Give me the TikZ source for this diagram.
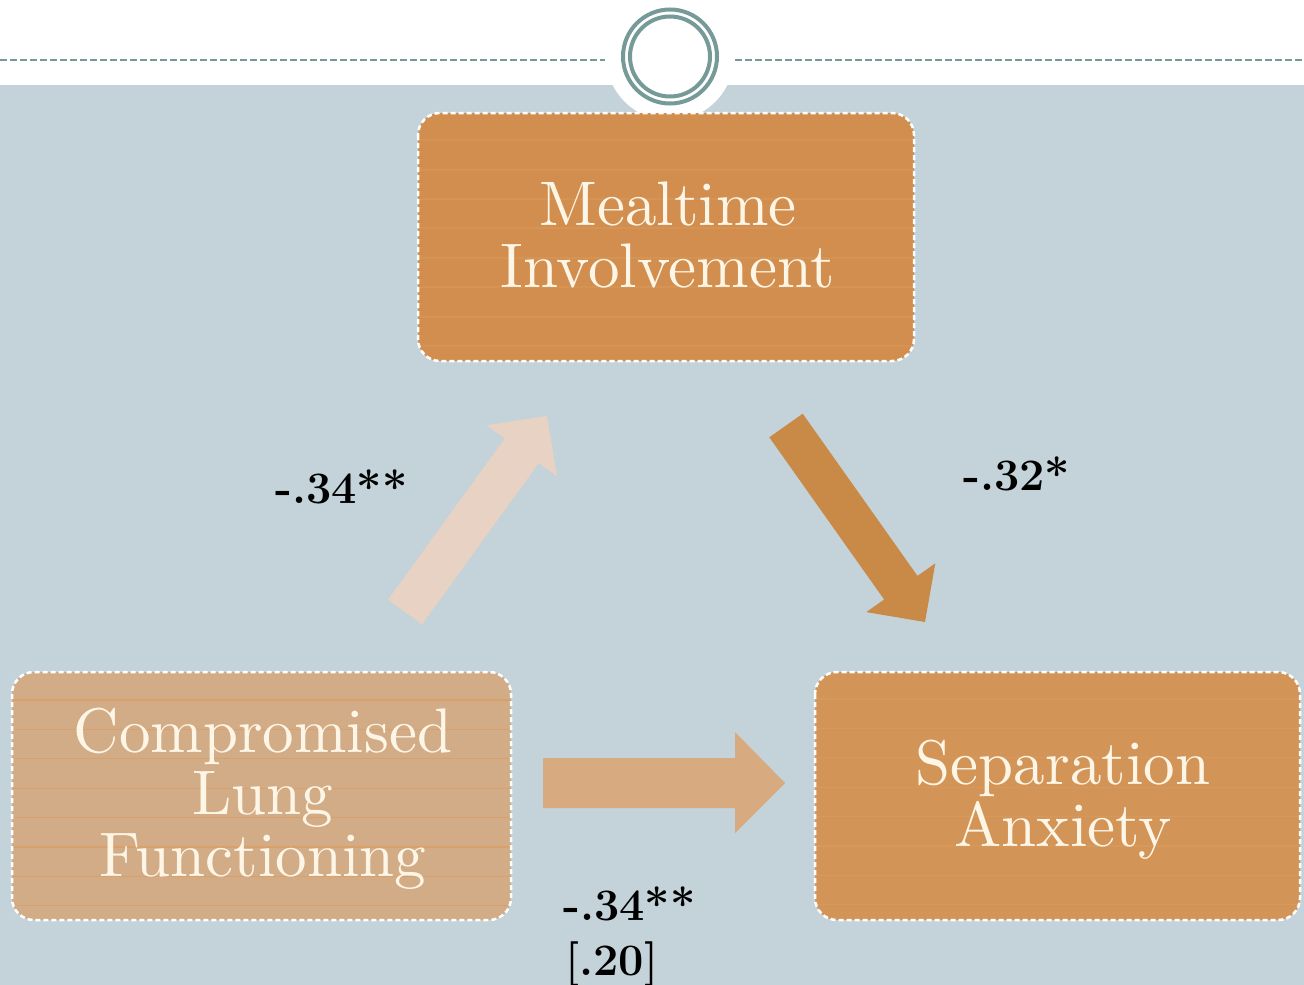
\documentclass[tikz,border=0pt]{standalone}
\usepackage{fontspec}
\newfontfamily\boxfont{lmroman10-regular.otf}
\definecolor{bgblue}{HTML}{C4D3D9}
\definecolor{ringcol}{HTML}{769A98}
\definecolor{mealcol}{HTML}{D18E4E}
\definecolor{sepcol}{HTML}{D39457}
\definecolor{compcol}{HTML}{D2AC86}
\definecolor{linecol}{HTML}{DD9E62}
\definecolor{uparrow}{HTML}{E8D2C3}
\definecolor{downarrow}{HTML}{C98A47}
\definecolor{harrow}{HTML}{D8AA80}
\definecolor{txtcol}{HTML}{FDF6E6}
\tikzset{
  boxshape/.style={draw=white, line width=2.5pt, dash pattern=on 5pt off 3pt, rounded corners=22pt},
  boxtext/.style={align=center, text=txtcol, font=\boxfont\fontsize{63}{62}\selectfont, inner sep=0pt},
  coeflabel/.style={font=\fontsize{45}{45}\selectfont\bfseries, inner sep=0pt, anchor=base west},
  ruled/.style={linecol, line width=1.2pt, opacity=0.8}
}
\begin{document}
\begin{tikzpicture}[x=1pt,y=-1pt]
\useasboundingbox (0,0) rectangle (1304,985);
% background
\fill[white] (0,0) rectangle (1304,85);
\fill[bgblue] (0,85) rectangle (1304,985);
% dashed header line
\draw[ringcol, line width=1.6pt, dash pattern=on 7pt off 3pt] (0,60) -- (605,60);
\draw[ringcol, line width=1.6pt, dash pattern=on 7pt off 3pt] (735,60) -- (1304,60);
% white cut-out and rings
\fill[white] (670,56.5) circle (64);
\draw[ringcol, line width=4pt] (670,56.5) circle (47);
\draw[ringcol, line width=4pt] (670,56.5) circle (40);

% boxes
\fill[mealcol, rounded corners=22pt] (418,113) rectangle (914,361);
\begin{scope}
  \clip[rounded corners=22pt] (418,113) rectangle (914,361);
  \foreach \yy in {140,170,199,228,258,287,317,346}
    \draw[ruled, opacity=0.35] (418,\yy) -- (914,\yy);
\end{scope}
\draw[boxshape] (418,113) rectangle (914,361);

\fill[compcol, rounded corners=22pt] (12,672) rectangle (511,920);
\begin{scope}
  \clip[rounded corners=22pt] (12,672) rectangle (511,920);
  \foreach \yy in {700,729.4,758.8,788.2,817.6,847,876.4,905.8}
    \draw[ruled] (12,\yy) -- (511,\yy);
\end{scope}
\draw[boxshape] (12,672) rectangle (511,920);

\fill[sepcol, rounded corners=22pt] (815,672) rectangle (1300,920);
\begin{scope}
  \clip[rounded corners=22pt] (815,672) rectangle (1300,920);
  \foreach \yy in {699,728.4,757.8,787.2,816.6,846,875.4,904.8}
    \draw[ruled, opacity=0.4] (815,\yy) -- (1300,\yy);
\end{scope}
\draw[boxshape] (815,672) rectangle (1300,920);

% box texts
\node[boxtext] (meal) at (668,235) {Mealtime\\Involvement};
\node[boxtext] (comp) at (263,799) {Compromised\\Lung\\Functioning};
\node[boxtext] (sep) at (1063,800) {Separation\\Anxiety};

% block arrows
\fill[uparrow] (388,599.7) -- (504.8,438.5) -- (486.6,425.3) -- (547,416)
  -- (557,476.3) -- (538.8,463.1) -- (422,624.3) -- cycle;
\fill[downarrow] (769.3,437.3) -- (884.1,599.5) -- (866.3,612.1) -- (925,622)
  -- (935.3,563.3) -- (917.5,575.9) -- (802.7,413.7) -- cycle;
\fill[harrow] (543,758) -- (735,758) -- (735,732) -- (785,783) -- (735,833)
  -- (735,808) -- (543,808) -- cycle;

% coefficient labels
\node[coeflabel] (la) at (275,503) {-.34**};
\node[coeflabel] (lb) at (963,490) {-.32*};
\node[coeflabel] (lc) at (563,920) {-.34**};
\node[coeflabel] (ld) at (565,975) {[.20]};
\end{tikzpicture}
\end{document}
